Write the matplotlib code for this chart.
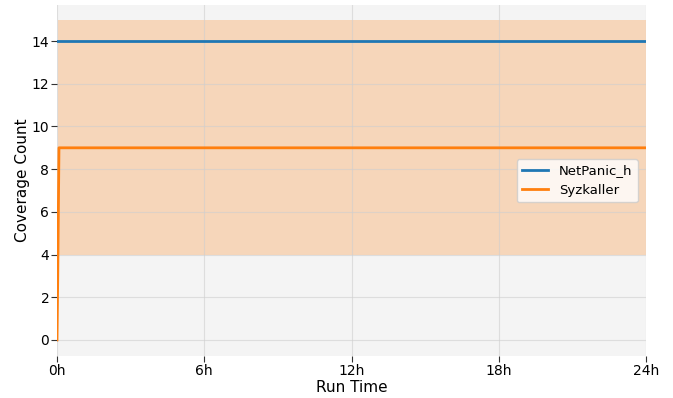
import numpy as np
import matplotlib
matplotlib.use("Agg")
import matplotlib.pyplot as plt

# coverage over a 24h run (hours)
netpanic_t = [0.0, 24.0]
netpanic_cov = [14, 14]

syz_t = [0.0, 0.03, 0.08, 24.0]
syz_cov = [0, 3, 9, 9]

# min/max band across syzkaller runs
band_t = [0.06, 24.0]
band_lo = [4, 4]
band_hi = [15, 15]

xticks = [0, 6, 12, 18, 24]
xticklabels = ["0h", "6h", "12h", "18h", "24h"]

fig = plt.figure(figsize=(6.73, 3.98), dpi=100)
ax = fig.add_axes([0.0847, 0.1055, 0.8753, 0.8815])
ax.set_facecolor("#f4f4f4")
for s in ax.spines.values():
    s.set_visible(False)

ax.fill_between(band_t, band_lo, band_hi, color="#ff7f0e", alpha=0.25, linewidth=0)
ax.plot(netpanic_t, netpanic_cov, color="#1f77b4", lw=2, label="NetPanic_h")
ax.plot(syz_t, syz_cov, color="#ff7f0e", lw=2, label="Syzkaller")

ax.grid(True, color="#cfcfcf", alpha=0.6, lw=0.8)
for ln in ax.get_xgridlines() + ax.get_ygridlines():
    ln.set_zorder(0.5)

ax.set_xlim(0, 24)
ax.set_ylim(-0.75, 15.68)
ax.set_xticks(xticks)
ax.set_xticklabels(xticklabels)
ax.set_yticks(np.arange(0, 15, 2))
ax.tick_params(labelsize=10, length=4, pad=1.5, color="#333333")
ax.set_xlabel("Run Time", fontsize=11, labelpad=2)
ax.set_ylabel("Coverage Count", fontsize=11, labelpad=1.5)

ax.legend(loc="center right", bbox_to_anchor=(0.997, 0.50), fontsize=9.5,
          framealpha=0.8, handlelength=2.0)

plt.savefig("out.png", dpi=100)
